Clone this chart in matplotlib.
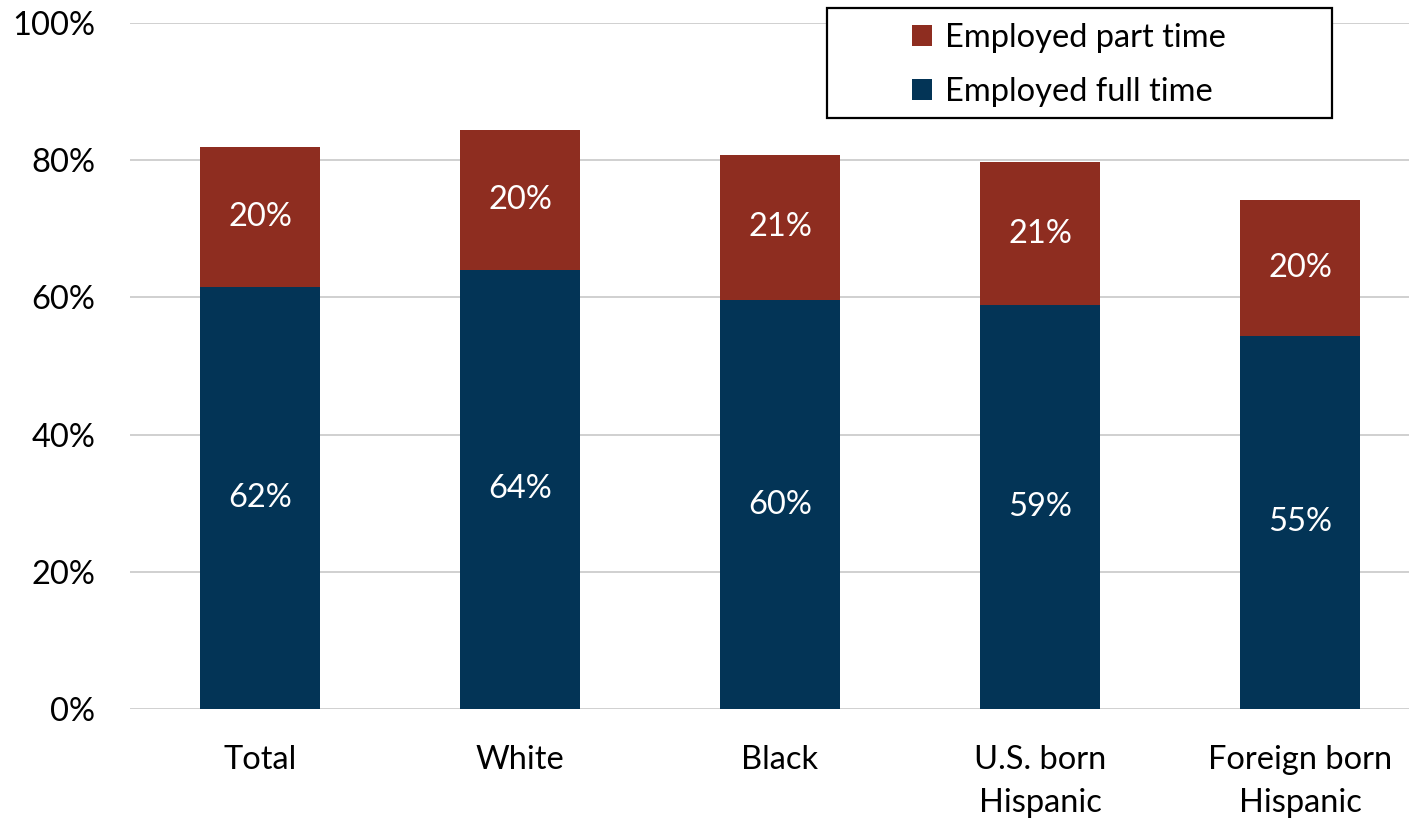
import matplotlib
matplotlib.use("Agg")
import matplotlib.pyplot as plt
from matplotlib.patches import Rectangle
import numpy as np

plt.rcParams['font.family'] = ['Lato', 'DejaVu Sans']

categories = ["Total", "White", "Black", "U.S. born\nHispanic", "Foreign born\nHispanic"]
full_time = [61.5, 64.0, 59.6, 58.9, 54.4]
part_time = [20.4, 20.4, 21.2, 20.8, 19.8]
full_labels = ["62%", "64%", "60%", "59%", "55%"]
part_labels = ["20%", "20%", "21%", "21%", "20%"]

navy = "#033456"
red = "#8e2d20"
fs = 23.5

W, H = 1409, 823
fig = plt.figure(figsize=(W / 100, H / 100), dpi=100)
# axes spans past the right edge, as in the cropped reference
ax = fig.add_axes([130 / W, (H - 709) / H, 1300 / W, 686 / H])

x = np.arange(len(categories))
bw = 120 / 260
ax.bar(x, full_time, width=bw, color=navy, label="Employed full time", zorder=3)
ax.bar(x, part_time, width=bw, bottom=full_time, color=red, label="Employed part time", zorder=3)

for i in range(len(categories)):
    ax.text(x[i], full_time[i] / 2, full_labels[i], ha="center", va="center",
            color="white", fontsize=fs, zorder=4)
    ax.text(x[i], full_time[i] + part_time[i] / 2, part_labels[i], ha="center", va="center",
            color="white", fontsize=fs, zorder=4)

ax.set_xlim(-0.5, 4.5)
ax.set_ylim(0, 100)
ax.set_yticks(np.arange(0, 101, 20))
ax.set_yticklabels([f"{v}%" for v in range(0, 101, 20)])
ax.set_xticks(x)
ax.set_xticklabels(categories, linespacing=1.55)
ax.tick_params(axis="both", length=0, labelsize=fs, colors="black")
ax.tick_params(axis="y", pad=25)
ax.tick_params(axis="x", pad=26)
ax.yaxis.grid(True, color="#d0d0d0", linewidth=1.4, zorder=0)
for s in ax.spines.values():
    s.set_visible(False)

# legend box
fig.patches.append(Rectangle((827 / W, 1 - 118 / H), 505 / W, 110 / H,
                             transform=fig.transFigure, facecolor="white",
                             edgecolor="black", linewidth=1.6, zorder=5))
handles, labels = ax.get_legend_handles_labels()
leg = fig.legend(handles[::-1], labels[::-1], loc="upper left",
                 bbox_to_anchor=(912 / W, 1 - 23 / H), fontsize=fs,
                 frameon=False, handlelength=0.6, handleheight=0.6,
                 handletextpad=0.4, borderpad=0, labelspacing=0.73,
                 borderaxespad=0)
leg.set_zorder(6)

fig.savefig("out.png", dpi=100)
